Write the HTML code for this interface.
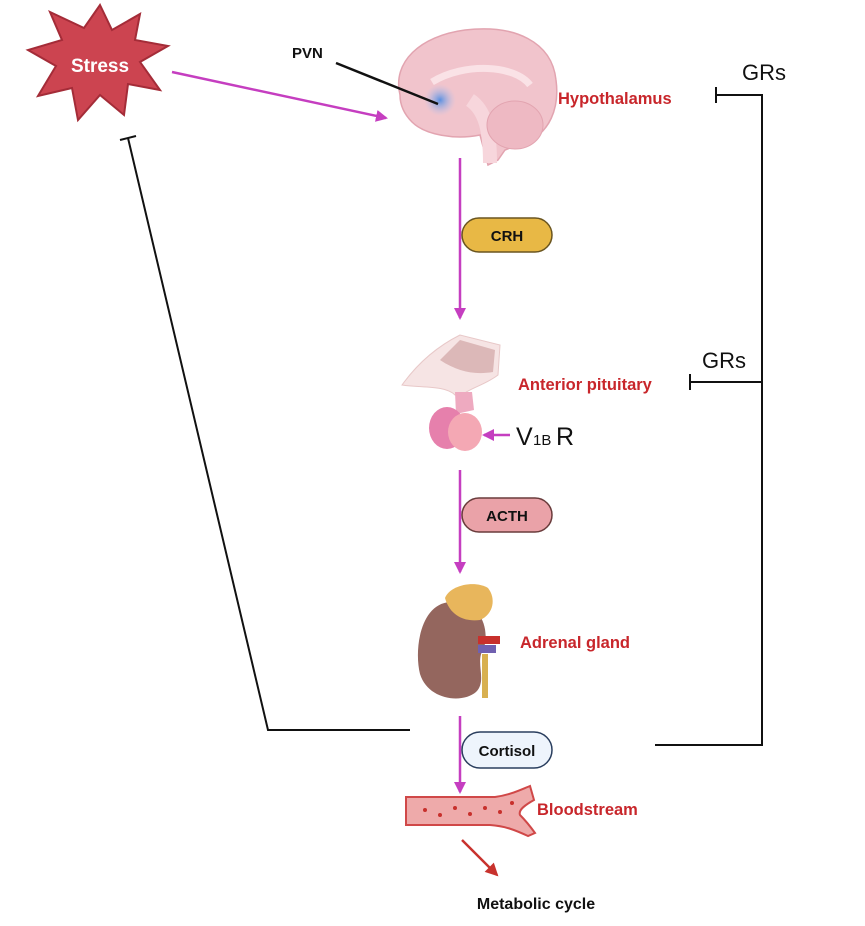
<!DOCTYPE html>
<html><head><meta charset="utf-8"><style>
html,body{margin:0;padding:0;background:#fff;}
svg{display:block;}
text{font-family:"Liberation Sans",sans-serif;}
</style></head><body>
<svg width="865" height="926" viewBox="0 0 865 926" xmlns="http://www.w3.org/2000/svg">
<defs>
<marker id="mag" markerWidth="12" markerHeight="12" refX="10" refY="6" orient="auto" markerUnits="userSpaceOnUse"><path d="M0,0 L12,6 L0,12 z" fill="#c53ec0"/></marker>
<marker id="red" markerWidth="13" markerHeight="13" refX="11" refY="6.5" orient="auto" markerUnits="userSpaceOnUse"><path d="M0,0 L13,6.5 L0,13 z" fill="#c8322d"/></marker>
<radialGradient id="blue"><stop offset="0" stop-color="#5a8fe0"/><stop offset="1" stop-color="#b8c4ec" stop-opacity="0"/></radialGradient>
</defs>
<rect width="865" height="926" fill="#fff"/>
<!-- Stress star -->
<polygon points="100,5 112,30 140,14 135,40 168,46 140,62 160,90 128,84 124,115 100,95 78,120 72,88 38,96 56,66 28,50 62,40 50,12 84,28" fill="#cc4450" stroke="#a42c38" stroke-width="2"/>
<text x="100" y="72" text-anchor="middle" font-size="19" font-weight="bold" fill="#fff">Stress</text>
<line x1="172" y1="72" x2="386" y2="118" stroke="#c53ec0" stroke-width="2.5" marker-end="url(#mag)"/>
<!-- Brain -->
<path d="M400,95 C392,62 420,36 465,30 C515,24 552,42 556,80 C560,110 548,132 530,140 L505,150 L498,160 L488,165 L480,135 C455,140 425,135 412,122 C403,113 400,104 400,95 Z" fill="#f1c4cc" stroke="#e2a4b0" stroke-width="1.5"/>
<path d="M432,82 C465,62 515,65 530,85" stroke="#fae2e6" stroke-width="7" fill="none"/>
<path d="M470,100 C485,110 490,130 490,163" stroke="#f7d6dc" stroke-width="14" fill="none"/>
<ellipse cx="515" cy="125" rx="28" ry="24" fill="#eeb9c3" stroke="#e2a4b0"/>
<circle cx="440" cy="100" r="16" fill="url(#blue)"/>
<text x="292" y="58" font-size="15" font-weight="bold" fill="#111">PVN</text>
<line x1="336" y1="63" x2="438" y2="104" stroke="#111" stroke-width="2.5"/>
<text x="558" y="104" font-size="16.5" font-weight="bold" fill="#c8262b">Hypothalamus</text>
<!-- CRH -->
<line x1="460" y1="158" x2="460" y2="318" stroke="#c53ec0" stroke-width="2.5" marker-end="url(#mag)"/>
<rect x="462" y="218" width="90" height="34" rx="17" fill="#e8b845" stroke="#6a5520" stroke-width="1.5"/>
<text x="507" y="241" text-anchor="middle" font-size="15" font-weight="bold" fill="#111">CRH</text>
<!-- Pituitary -->
<path d="M402,385 C420,360 440,345 460,335 L500,345 L498,375 C485,385 470,388 462,395 L455,395 C445,385 420,388 402,385 Z" fill="#f6e4e4" stroke="#e8c8c8"/>
<path d="M440,360 L460,340 L495,350 L493,372 C475,375 458,372 440,360Z" fill="#dcb8b8"/>
<path d="M455,392 L472,392 L474,410 L456,414Z" fill="#eeaac0"/>
<ellipse cx="447" cy="428" rx="18" ry="21" fill="#e680ac"/>
<ellipse cx="465" cy="432" rx="17" ry="19" fill="#f4a8b4"/>
<text x="518" y="390" font-size="16.5" font-weight="bold" fill="#c8262b">Anterior pituitary</text>
<line x1="510" y1="435" x2="484" y2="435" stroke="#c53ec0" stroke-width="2.5" marker-end="url(#mag)"/>
<text x="516" y="445" font-size="25" fill="#111">V</text>
<text x="533" y="445" font-size="15" fill="#111">1B</text>
<text x="556" y="445" font-size="25" fill="#111">R</text>
<!-- ACTH -->
<line x1="460" y1="470" x2="460" y2="572" stroke="#c53ec0" stroke-width="2.5" marker-end="url(#mag)"/>
<rect x="462" y="498" width="90" height="34" rx="17" fill="#eaa2a8" stroke="#6a3c3c" stroke-width="1.5"/>
<text x="507" y="521" text-anchor="middle" font-size="15" font-weight="bold" fill="#111">ACTH</text>
<!-- Kidney -->
<path d="M450,602 C420,604 414,650 420,674 C428,700 462,704 476,692 C488,680 474,662 484,648 C490,628 480,600 450,602Z" fill="#94665e"/>
<path d="M445,598 C450,585 475,580 488,588 C496,598 494,614 480,620 C465,622 450,616 445,598Z" fill="#e8b65c"/>
<rect x="478" y="636" width="22" height="8" fill="#c8302c"/>
<rect x="478" y="645" width="18" height="8" fill="#7060b0"/>
<rect x="482" y="654" width="6" height="44" fill="#d8b050"/>
<text x="520" y="648" font-size="16.5" font-weight="bold" fill="#c8262b">Adrenal gland</text>
<!-- Cortisol -->
<line x1="460" y1="716" x2="460" y2="792" stroke="#c53ec0" stroke-width="2.5" marker-end="url(#mag)"/>
<rect x="462" y="732" width="90" height="36" rx="18" fill="#eef4fc" stroke="#2a3e5e" stroke-width="1.5"/>
<text x="507" y="756" text-anchor="middle" font-size="15" font-weight="bold" fill="#111">Cortisol</text>
<!-- Bloodstream -->
<path d="M406,797 L495,797 C510,795 520,790 530,786 L534,800 C525,805 518,810 520,815 C525,820 530,826 535,833 L528,836 C515,830 505,826 490,825 L406,825 Z" fill="#eeaaaa" stroke="#d04848" stroke-width="2"/>
<g fill="#c8302c"><circle cx="425" cy="810" r="2"/><circle cx="440" cy="815" r="2"/><circle cx="455" cy="808" r="2"/><circle cx="470" cy="814" r="2"/><circle cx="485" cy="808" r="2"/><circle cx="500" cy="812" r="2"/><circle cx="512" cy="803" r="2"/></g>
<text x="537" y="815" font-size="16.5" font-weight="bold" fill="#c8262b">Bloodstream</text>
<line x1="462" y1="840" x2="497" y2="875" stroke="#c8322d" stroke-width="2.5" marker-end="url(#red)"/>
<text x="536" y="909" text-anchor="middle" font-size="16" font-weight="bold" fill="#111">Metabolic cycle</text>
<!-- Feedback lines -->
<polyline points="410,730 268,730 128,138" fill="none" stroke="#111" stroke-width="2"/>
<line x1="120" y1="140" x2="136" y2="136" stroke="#111" stroke-width="2"/>
<polyline points="655,745 762,745 762,95 716,95" fill="none" stroke="#111" stroke-width="2"/>
<line x1="716" y1="87" x2="716" y2="103" stroke="#111" stroke-width="2"/>
<line x1="762" y1="382" x2="690" y2="382" stroke="#111" stroke-width="2"/>
<line x1="690" y1="374" x2="690" y2="390" stroke="#111" stroke-width="2"/>
<text x="742" y="80" font-size="22" fill="#111">GRs</text>
<text x="702" y="368" font-size="22" fill="#111">GRs</text>
</svg>
</body></html>
